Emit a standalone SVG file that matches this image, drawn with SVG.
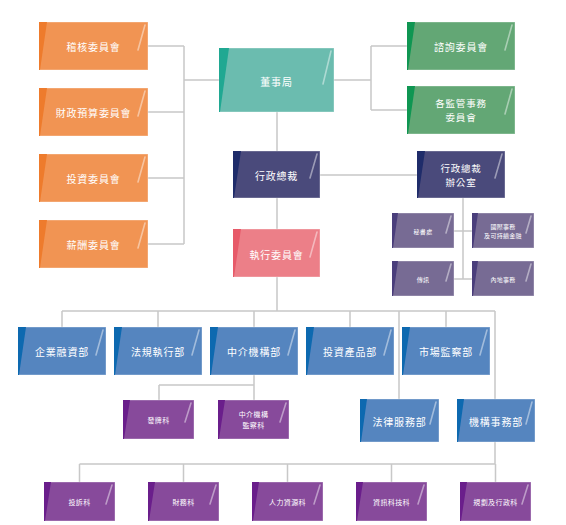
<svg xmlns="http://www.w3.org/2000/svg" width="566" height="525" viewBox="0 0 566 525">
<style>
.bg{fill:#ffffff}
.ln{stroke:#c8c8c8;stroke-width:1.5;fill:none}
.box{stroke:#ffffff;stroke-opacity:0.35;stroke-width:1}
.sl{stroke:#ffffff;stroke-opacity:0.45;stroke-width:1.6;stroke-linecap:round}
.t{font-family:"Noto Sans CJK TC","Noto Sans CJK SC",sans-serif;fill:#ffffff;text-anchor:middle;dominant-baseline:central}
.big{font-size:10px;letter-spacing:0.8px}
.big2{font-size:9.5px;letter-spacing:0.8px}
.mid{font-size:7px;letter-spacing:0.4px}
.sm{font-size:6px;letter-spacing:0.3px}
.or{fill:#f19453}.or2{fill:#ee7b2c}
.te{fill:#6bbcaf}.te2{fill:#20a892}
.gr{fill:#63a775}.gr2{fill:#0f9652}
.nv{fill:#4a4a7b}.nv2{fill:#1f2c6a}
.pk{fill:#ec7f88}.pk2{fill:#e75a69}
.pg{fill:#776b94}.pg2{fill:#4a3e7b}
.bl{fill:#5585bf}.bl2{fill:#0d69b0}
.pu{fill:#874a9b}.pu2{fill:#6a1e8b}
</style>
<rect class="bg" x="0" y="0" width="566" height="525"/>
<g id="connectors">
<path class="ln" d="M148 46H184M148 112H184M148 178H184M148 244H184M184 46V244M184 80H219"/>
<path class="ln" d="M334 80H371M371 46V110M371 46H407M371 110H407"/>
<path class="ln" d="M277 112V151M277 198V229M320 175H417"/>
<path class="ln" d="M463 198V279M454 231H472M454 279H472"/>
<path class="ln" d="M277 277V311M62 311H495M62 311V327M158 311V327M254 311V327M350 311V327M446 311V327"/>
<path class="ln" d="M399 311V399M495 311V399"/>
<path class="ln" d="M254 375V385M159 385H254M159 385V400M254 385V400"/>
<path class="ln" d="M495 442V464M79.5 464H495M79.5 464V482M183.5 464V482M287.5 464V482M391.5 464V482M495.5 464V482"/>
</g>
<g id="n-audit"><rect class="box or" x="39" y="22" width="109" height="48"/><polygon class="or2" points="39,22 47,22 40,70 39,70"/><line class="sl" x1="145" y1="25" x2="138" y2="50"/><text class="t big" x="93.5" y="46">稽核委員會</text></g>
<g id="n-budget"><rect class="box or" x="39" y="88" width="109" height="48"/><polygon class="or2" points="39,88 47,88 40,136 39,136"/><line class="sl" x1="145" y1="91" x2="138" y2="116"/><text class="t big" x="93.5" y="112">財政預算委員會</text></g>
<g id="n-invest"><rect class="box or" x="39" y="154" width="109" height="48"/><polygon class="or2" points="39,154 47,154 40,202 39,202"/><line class="sl" x1="145" y1="157" x2="138" y2="182"/><text class="t big" x="93.5" y="178">投資委員會</text></g>
<g id="n-remun"><rect class="box or" x="39" y="220" width="109" height="48"/><polygon class="or2" points="39,220 47,220 40,268 39,268"/><line class="sl" x1="145" y1="223" x2="138" y2="248"/><text class="t big" x="93.5" y="244">薪酬委員會</text></g>
<g id="n-board"><rect class="box te" x="219" y="48" width="115" height="64"/><polygon class="te2" points="219,48 229,48 220,112 219,112"/><line class="sl" x1="331" y1="51" x2="323" y2="84"/><text class="t big" x="276.5" y="81">董事局</text></g>
<g id="n-advisory"><rect class="box gr" x="407" y="22" width="108" height="48"/><polygon class="gr2" points="407,22 415,22 408,70 407,70"/><line class="sl" x1="512" y1="25" x2="505" y2="50"/><text class="t big" x="461" y="46">諮詢委員會</text></g>
<g id="n-regulatory"><rect class="box gr" x="407" y="86" width="108" height="48"/><polygon class="gr2" points="407,86 415,86 408,134 407,134"/><line class="sl" x1="512" y1="89" x2="505" y2="114"/><text class="t big2" x="461" y="103">各監管事務</text><text class="t big2" x="461" y="117">委員會</text></g>
<g id="n-ceo"><rect class="box nv" x="233" y="151" width="87" height="47"/><polygon class="nv2" points="233,151 241,151 234,198 233,198"/><line class="sl" x1="317" y1="154" x2="310" y2="178"/><text class="t big" x="276.5" y="175">行政總裁</text></g>
<g id="n-ceo-office"><rect class="box nv" x="417" y="151" width="88" height="47"/><polygon class="nv2" points="417,151 425,151 418,198 417,198"/><line class="sl" x1="502" y1="154" x2="495" y2="178"/><text class="t big2" x="461" y="168">行政總裁</text><text class="t big2" x="461" y="182">辦公室</text></g>
<g id="n-exco"><rect class="box pk" x="233" y="229" width="87" height="48"/><polygon class="pk2" points="233,229 241,229 234,277 233,277"/><line class="sl" x1="317" y1="232" x2="310" y2="257"/><text class="t big" x="276.5" y="254">執行委員會</text></g>
<g id="n-secretariat"><rect class="box pg" x="392" y="213" width="62" height="35"/><polygon class="pg2" points="392,213 398,213 393,248 392,248"/><line class="sl" x1="451" y1="216" x2="446" y2="233"/><text class="t sm" x="423" y="231">秘書處</text></g>
<g id="n-intl"><rect class="box pg" x="472" y="213" width="62" height="35"/><polygon class="pg2" points="472,213 478,213 473,248 472,248"/><line class="sl" x1="531" y1="216" x2="526" y2="233"/><text class="t sm" x="503" y="226">國際事務</text><text class="t sm" x="503" y="235">及可持續金融</text></g>
<g id="n-comm"><rect class="box pg" x="392" y="261" width="62" height="35"/><polygon class="pg2" points="392,261 398,261 393,296 392,296"/><line class="sl" x1="451" y1="264" x2="446" y2="281"/><text class="t sm" x="423" y="279">傳訊</text></g>
<g id="n-mainland"><rect class="box pg" x="472" y="261" width="62" height="35"/><polygon class="pg2" points="472,261 478,261 473,296 472,296"/><line class="sl" x1="531" y1="264" x2="526" y2="281"/><text class="t sm" x="503" y="279">內地事務</text></g>
<g id="n-cf"><rect class="box bl" x="18" y="327" width="88" height="48"/><polygon class="bl2" points="18,327 26,327 19,375 18,375"/><line class="sl" x1="103" y1="330" x2="96" y2="355"/><text class="t big" x="62" y="351">企業融資部</text></g>
<g id="n-enf"><rect class="box bl" x="114" y="327" width="88" height="48"/><polygon class="bl2" points="114,327 122,327 115,375 114,375"/><line class="sl" x1="199" y1="330" x2="192" y2="355"/><text class="t big" x="158" y="351">法規執行部</text></g>
<g id="n-interm"><rect class="box bl" x="210" y="327" width="88" height="48"/><polygon class="bl2" points="210,327 218,327 211,375 210,375"/><line class="sl" x1="295" y1="330" x2="288" y2="355"/><text class="t big" x="254" y="351">中介機構部</text></g>
<g id="n-ip"><rect class="box bl" x="306" y="327" width="88" height="48"/><polygon class="bl2" points="306,327 314,327 307,375 306,375"/><line class="sl" x1="391" y1="330" x2="384" y2="355"/><text class="t big" x="350" y="351">投資產品部</text></g>
<g id="n-ms"><rect class="box bl" x="402" y="327" width="88" height="48"/><polygon class="bl2" points="402,327 410,327 403,375 402,375"/><line class="sl" x1="487" y1="330" x2="480" y2="355"/><text class="t big" x="446" y="351">市場監察部</text></g>
<g id="n-legal"><rect class="box bl" x="360" y="399" width="79" height="43"/><polygon class="bl2" points="360,399 367,399 361,442 360,442"/><line class="sl" x1="436" y1="402" x2="430" y2="424"/><text class="t big" x="399.5" y="421">法律服務部</text></g>
<g id="n-corp"><rect class="box bl" x="457" y="399" width="78" height="43"/><polygon class="bl2" points="457,399 464,399 458,442 457,442"/><line class="sl" x1="532" y1="402" x2="526" y2="424"/><text class="t big" x="496" y="421">機構事務部</text></g>
<g id="n-licensing"><rect class="box pu" x="123" y="400" width="71" height="39"/><polygon class="pu2" points="123,400 130,400 124,439 123,439"/><line class="sl" x1="191" y1="403" x2="185" y2="422"/><text class="t mid" x="158.5" y="420">發牌科</text></g>
<g id="n-supervision"><rect class="box pu" x="218" y="400" width="71" height="39"/><polygon class="pu2" points="218,400 225,400 219,439 218,439"/><line class="sl" x1="286" y1="403" x2="280" y2="422"/><text class="t mid" x="253.5" y="414">中介機構</text><text class="t mid" x="253.5" y="425">監察科</text></g>
<g id="n-complaints"><rect class="box pu" x="44" y="482" width="71" height="39"/><polygon class="pu2" points="44,482 51,482 45,521 44,521"/><line class="sl" x1="112" y1="485" x2="106" y2="504"/><text class="t mid" x="79.5" y="502">投訴科</text></g>
<g id="n-finance"><rect class="box pu" x="148" y="482" width="71" height="39"/><polygon class="pu2" points="148,482 155,482 149,521 148,521"/><line class="sl" x1="216" y1="485" x2="210" y2="504"/><text class="t mid" x="183.5" y="502">財務科</text></g>
<g id="n-hr"><rect class="box pu" x="252" y="482" width="71" height="39"/><polygon class="pu2" points="252,482 259,482 253,521 252,521"/><line class="sl" x1="320" y1="485" x2="314" y2="504"/><text class="t mid" x="287.5" y="502">人力資源科</text></g>
<g id="n-it"><rect class="box pu" x="356" y="482" width="71" height="39"/><polygon class="pu2" points="356,482 363,482 357,521 356,521"/><line class="sl" x1="424" y1="485" x2="418" y2="504"/><text class="t mid" x="391.5" y="502">資訊科技科</text></g>
<g id="n-planning"><rect class="box pu" x="460" y="482" width="71" height="39"/><polygon class="pu2" points="460,482 467,482 461,521 460,521"/><line class="sl" x1="528" y1="485" x2="522" y2="504"/><text class="t mid" x="495.5" y="502">規劃及行政科</text></g>
</svg>
